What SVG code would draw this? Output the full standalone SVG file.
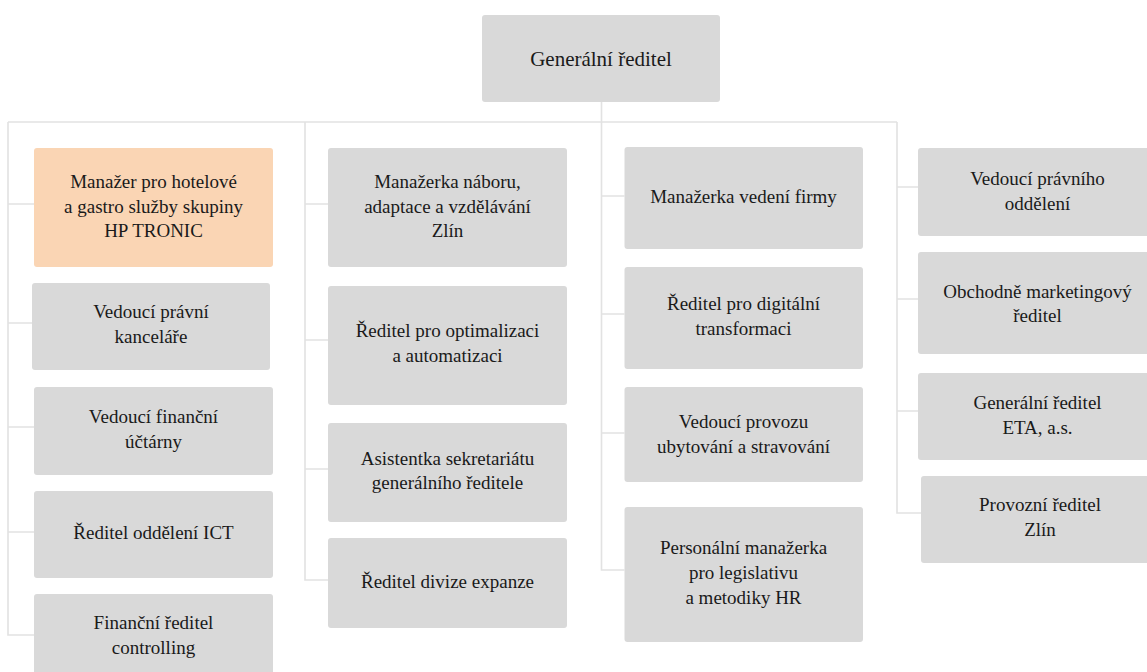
<svg xmlns="http://www.w3.org/2000/svg" width="1147" height="672" viewBox="0 0 1147 672">
<rect width="1147" height="672" fill="#FFFFFF"/>
<g id="connectors" fill="none" stroke="#E2E2E2" stroke-width="1.6">
<path d="M601.5,102 V122"/>
<path d="M8,122 H897"/>
<path d="M8,122 V635 H34 M8,204 H34 M8,323 H32 M8,427 H34 M8,532 H34"/>
<path d="M305,122 V580 H328 M305,204 H328 M305,340 H328 M305,469 H328"/>
<path d="M601.5,122 V570 H624.5 M601.5,196 H624.5 M601.5,314 H624.5 M601.5,433 H624.5"/>
<path d="M897,122 V513 H921 M897,187 H918 M897,299 H918 M897,411 H918"/>
</g>
<g id="nodes" fill="#D9D9D9">
<g id="n0"><rect x="482" y="15" width="238" height="87" rx="3"/><text font-family="Times New Roman, Tinos, serif" font-size="21" fill="#1a1a1a" text-anchor="middle" x="601" y="66">Generální ředitel</text></g>
<g id="c1n1"><rect fill="#FAD5B4" x="34" y="148" width="239" height="119" rx="3"/><text font-family="Times New Roman, Tinos, serif" font-size="19" fill="#1a1a1a" text-anchor="middle" x="153.5" y="188">Manažer pro hotelové<tspan x="153.5" dy="24.5">a gastro služby skupiny</tspan><tspan x="153.5" dy="24.5">HP TRONIC</tspan></text></g>
<g id="c1n2"><rect x="32" y="283" width="238" height="87" rx="3"/><text font-family="Times New Roman, Tinos, serif" font-size="19" fill="#1a1a1a" text-anchor="middle" x="151" y="318">Vedoucí právní<tspan x="151" dy="25">kanceláře</tspan></text></g>
<g id="c1n3"><rect x="34" y="387" width="239" height="88" rx="3"/><text font-family="Times New Roman, Tinos, serif" font-size="19" fill="#1a1a1a" text-anchor="middle" x="153.5" y="423">Vedoucí finanční<tspan x="153.5" dy="25">účtárny</tspan></text></g>
<g id="c1n4"><rect x="34" y="491" width="239" height="87" rx="3"/><text font-family="Times New Roman, Tinos, serif" font-size="19" fill="#1a1a1a" text-anchor="middle" x="153.5" y="539">Ředitel oddělení ICT</text></g>
<g id="c1n5"><rect x="34" y="594" width="239" height="86" rx="3"/><text font-family="Times New Roman, Tinos, serif" font-size="19" fill="#1a1a1a" text-anchor="middle" x="153.5" y="629">Finanční ředitel<tspan x="153.5" dy="25">controlling</tspan></text></g>
<g id="c2n1"><rect x="328" y="148" width="239" height="119" rx="3"/><text font-family="Times New Roman, Tinos, serif" font-size="19" fill="#1a1a1a" text-anchor="middle" x="447.5" y="188">Manažerka náboru,<tspan x="447.5" dy="24.5">adaptace a vzdělávání</tspan><tspan x="447.5" dy="24.5">Zlín</tspan></text></g>
<g id="c2n2"><rect x="328" y="286" width="239" height="119" rx="3"/><text font-family="Times New Roman, Tinos, serif" font-size="19" fill="#1a1a1a" text-anchor="middle" x="447.5" y="337">Ředitel pro optimalizaci<tspan x="447.5" dy="25">a automatizaci</tspan></text></g>
<g id="c2n3"><rect x="328" y="423" width="239" height="99" rx="3"/><text font-family="Times New Roman, Tinos, serif" font-size="19" fill="#1a1a1a" text-anchor="middle" x="447.5" y="465">Asistentka sekretariátu<tspan x="447.5" dy="24">generálního ředitele</tspan></text></g>
<g id="c2n4"><rect x="328" y="538" width="239" height="90" rx="3"/><text font-family="Times New Roman, Tinos, serif" font-size="19" fill="#1a1a1a" text-anchor="middle" x="447.5" y="588">Ředitel divize expanze</text></g>
<g id="c3n1"><rect x="624.5" y="147" width="238.5" height="102" rx="3"/><text font-family="Times New Roman, Tinos, serif" font-size="19" fill="#1a1a1a" text-anchor="middle" x="743.5" y="203">Manažerka vedení firmy</text></g>
<g id="c3n2"><rect x="624.5" y="267" width="238.5" height="102" rx="3"/><text font-family="Times New Roman, Tinos, serif" font-size="19" fill="#1a1a1a" text-anchor="middle" x="743.5" y="310">Ředitel pro digitální<tspan x="743.5" dy="25">transformaci</tspan></text></g>
<g id="c3n3"><rect x="624.5" y="387" width="238.5" height="95" rx="3"/><text font-family="Times New Roman, Tinos, serif" font-size="19" fill="#1a1a1a" text-anchor="middle" x="743.5" y="428">Vedoucí provozu<tspan x="743.5" dy="25">ubytování a stravování</tspan></text></g>
<g id="c3n4"><rect x="624.5" y="507" width="238.5" height="135" rx="3"/><text font-family="Times New Roman, Tinos, serif" font-size="19" fill="#1a1a1a" text-anchor="middle" x="743.5" y="554">Personální manažerka<tspan x="743.5" dy="25">pro legislativu</tspan><tspan x="743.5" dy="25">a metodiky HR</tspan></text></g>
<g id="c4n1"><rect x="918" y="148" width="239" height="88" rx="3"/><text font-family="Times New Roman, Tinos, serif" font-size="19" fill="#1a1a1a" text-anchor="middle" x="1037.5" y="185">Vedoucí právního<tspan x="1037.5" dy="25">oddělení</tspan></text></g>
<g id="c4n2"><rect x="918" y="252" width="239" height="102" rx="3"/><text font-family="Times New Roman, Tinos, serif" font-size="19" fill="#1a1a1a" text-anchor="middle" x="1037.5" y="298">Obchodně marketingový<tspan x="1037.5" dy="23.5">ředitel</tspan></text></g>
<g id="c4n3"><rect x="918" y="373" width="239" height="87" rx="3"/><text font-family="Times New Roman, Tinos, serif" font-size="19" fill="#1a1a1a" text-anchor="middle" x="1037.5" y="409">Generální ředitel<tspan x="1037.5" dy="25">ETA, a.s.</tspan></text></g>
<g id="c4n4"><rect x="921" y="476" width="239" height="87" rx="3"/><text font-family="Times New Roman, Tinos, serif" font-size="19" fill="#1a1a1a" text-anchor="middle" x="1040" y="511">Provozní ředitel<tspan x="1040" dy="25">Zlín</tspan></text></g>
</g>
</svg>
